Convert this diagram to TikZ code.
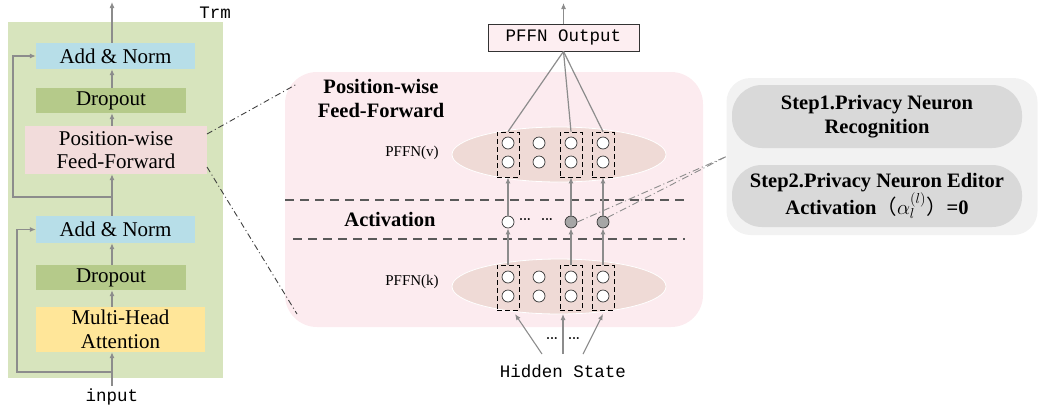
\documentclass[tikz,border=0pt]{standalone}
\usepackage{fontspec}
\setmainfont{Liberation Serif}
\setmonofont{Liberation Mono}
\newfontfamily\cjk{Noto Sans CJK SC}
\usetikzlibrary{arrows.meta,shapes.geometric}
\definecolor{trmgreen}{HTML}{D7E4BD}
\definecolor{normblue}{HTML}{B7DEE8}
\definecolor{dropgreen}{HTML}{B5CA8A}
\definecolor{ffpink}{HTML}{F2DCDB}
\definecolor{mhayellow}{HTML}{FFE699}
\definecolor{bgpink}{HTML}{FCEBEF}
\definecolor{ellpink}{HTML}{EFDAD6}
\definecolor{outpink}{HTML}{FDEEF1}
\definecolor{panelgray}{HTML}{F2F2F2}
\definecolor{stepgray}{HTML}{D9D9D9}
\definecolor{arrgray}{HTML}{8C8C8C}
\definecolor{dashgray}{HTML}{595959}
\definecolor{actgray}{HTML}{A6A6A6}
\begin{document}
\begin{tikzpicture}[x=1pt,y=-1pt,
  blk/.style={rectangle,inner sep=0pt,font=\fontsize{21}{23.5}\selectfont,align=center},
  arr/.style={draw=arrgray,line width=1.1pt,-{Latex[length=6pt,width=5pt]}},
  gline/.style={draw=arrgray,line width=1.2pt},
  mono/.style={font=\ttfamily\fontsize{17.5}{20}\selectfont,inner sep=0pt},
  neu/.style={circle,draw=black!80,fill=white,line width=0.7pt,minimum size=12pt,inner sep=0pt},
  aneu/.style={neu,fill=actgray},
  colbox/.style={rectangle,draw=black,dashed,dash pattern=on 5pt off 3pt,line width=0.8pt,minimum width=22pt,minimum height=45pt,inner sep=0pt},
  ell/.style={ellipse,fill=ellpink,draw=white,line width=0.8pt,minimum width=214pt,minimum height=55pt,inner sep=0pt},
  sepline/.style={draw=dashgray,line width=1.6pt,dash pattern=on 9pt off 6pt},
  ddline/.style={draw=black!75,line width=0.9pt,dash pattern=on 6pt off 3pt on 1pt off 3pt},
  ddgray/.style={draw=arrgray,line width=0.9pt,dash pattern=on 7pt off 3pt on 1pt off 3pt},
  lbl/.style={font=\fontsize{15}{17}\selectfont,inner sep=0pt},
  dots/.style={font=\bfseries\fontsize{12}{14}\selectfont,inner sep=0pt},
  bold/.style={font=\bfseries\fontsize{20.5}{24}\selectfont,align=center,inner sep=0pt},
  stepbox/.style={rectangle,rounded corners=30pt,fill=stepgray,minimum width=290pt,inner sep=0pt,font=\bfseries\fontsize{20.5}{24.5}\selectfont,align=center}
]
\useasboundingbox (0,0) rectangle (1038,416);

% ---------- left transformer block ----------
\node[rectangle,fill=trmgreen,minimum width=215pt,minimum height=356pt,inner sep=0pt] (trm) at (115.5,200) {};
\node[mono] (trmlbl) at (215,13) {Trm};
\node[blk,fill=normblue,minimum width=159pt,minimum height=26pt] (an2) at (115.5,56) {Add \& Norm};
\node[blk,fill=dropgreen,minimum width=150pt,minimum height=25pt] (dp2) at (111,100.5) {Dropout};
\node[blk,fill=ffpink,minimum width=182pt,minimum height=48pt] (pff) at (116,150) {Position-wise\\Feed-Forward};
\node[blk,fill=normblue,minimum width=159pt,minimum height=27pt] (an1) at (115.5,229.5) {Add \& Norm};
\node[blk,fill=dropgreen,minimum width=150pt,minimum height=25pt] (dp1) at (111,277.5) {Dropout};
\node[blk,fill=mhayellow,minimum width=169pt,minimum height=45pt] (mha) at (120.5,329.5) {Multi-Head\\Attention};
\node[mono] (inp) at (112,397) {input};

\coordinate (mid) at (112,0);
\coordinate (top) at (112,2);
\coordinate (in1) at (112,386);
\coordinate (rb) at (112,372);
\coordinate (rt) at (112,197);

\draw[arr] (in1) -- (mha.south -| mid);
\draw[arr] (mha.north -| mid) -- (dp1.south -| mid);
\draw[arr] (dp1.north -| mid) -- (an1.south -| mid);
\draw[arr] (an1.north -| mid) -- (pff.south -| mid);
\draw[arr] (pff.north -| mid) -- (dp2.south -| mid);
\draw[arr] (dp2.north -| mid) -- (an2.south -| mid);
\draw[arr] (an2.north -| mid) -- (top);
\draw[arr] (rb) -- (17,372) -- (17,229.5) -- (an1.west);
\draw[arr] (rt) -- (13,197) -- (13,56) -- (an2.west);

% ---------- centre PFFN detail ----------
\node[rectangle,rounded corners=32pt,fill=bgpink,minimum width=418pt,minimum height=255pt,inner sep=0pt] (bg) at (494,199.5) {};
\coordinate (z1) at (207,134);
\coordinate (z2) at (297,84);
\coordinate (z3) at (207,167);
\coordinate (z4) at (297,314);
\draw[ddline] (z1) -- (z2);
\draw[ddline] (z3) -- (z4);

\node[bold] (title) at (381,98) {Position-wise\\Feed-Forward};
\node[rectangle,draw=black!80,fill=outpink,line width=0.8pt,minimum width=151pt,minimum height=27pt,inner sep=0pt,font=\ttfamily\fontsize{17.5}{20}\selectfont] (out) at (563.5,37.5) {PFFN Output};
\coordinate (outtop) at (563.5,3);
\draw[arr] (out.north) -- (outtop);

% PFFN(v)
\node[ell] (ev) at (559,154.5) {};
\node[lbl] (lv) at (412,153) {PFFN(v)};
\foreach \n/\x in {1/508,2/539,3/571,4/603}{
  \node[neu] (v\n a) at (\x,143) {};
  \node[neu] (v\n b) at (\x,162) {};
}
\node[colbox] (vb1) at (508,154.5) {};
\node[colbox] (vb3) at (571,154.5) {};
\node[colbox] (vb4) at (603,154.5) {};
\draw[gline] (out.south) -- (vb1.north);
\draw[gline] (out.south) -- (vb3.north);
\draw[gline] (out.south) -- (vb4.north);

% separators
\coordinate (s1a) at (285,200);
\coordinate (s1b) at (685,200);
\coordinate (s2a) at (293,239);
\coordinate (s2b) at (685,239);
\draw[sepline] (s1a) -- (s1b);
\draw[sepline] (s2a) -- (s2b);

% Activation
\node[bold] (act) at (390,219) {Activation};
\node[neu] (a1) at (508,222) {};
\node[aneu] (a3) at (571,222) {};
\node[aneu] (a4) at (603,222) {};
\node[dots] (ad1) at (525,221) {\textperiodcentered\textperiodcentered\textperiodcentered};
\node[dots] (ad2) at (547,221) {\textperiodcentered\textperiodcentered\textperiodcentered};
\draw[arr] (a1.north) -- (vb1.south);
\draw[arr] (a3.north) -- (vb3.south);
\draw[arr] (a4.north) -- (vb4.south);

% PFFN(k)
\node[ell] (ek) at (559,286.5) {};
\node[lbl] (lk) at (412,282) {PFFN(k)};
\foreach \n/\x in {1/508,2/539,3/571,4/603}{
  \node[neu] (k\n a) at (\x,277) {};
  \node[neu] (k\n b) at (\x,296) {};
}
\node[colbox] (kb1) at (508,287.5) {};
\node[colbox] (kb3) at (571,287.5) {};
\node[colbox] (kb4) at (603,287.5) {};
\draw[arr] (kb1.north) -- (a1.south);
\draw[arr] (kb3.north) -- (a3.south);
\draw[arr] (kb4.north) -- (a4.south);

% hidden state
\node[mono] (hs) at (563,371) {Hidden State};
\coordinate (h1) at (542,354);
\coordinate (h2) at (563,354);
\coordinate (h3) at (583,354);
\coordinate (t1) at (515,314);
\coordinate (t2) at (563,314);
\coordinate (t3) at (603,314);
\draw[arr] (h1) -- (t1);
\draw[arr] (h2) -- (t2);
\draw[arr] (h3) -- (t3);
\node[dots] (hd1) at (552,340) {\textperiodcentered\textperiodcentered\textperiodcentered};
\node[dots] (hd2) at (574,340) {\textperiodcentered\textperiodcentered\textperiodcentered};

% ---------- right step panel ----------
\node[rectangle,rounded corners=24pt,fill=panelgray,minimum width=311pt,minimum height=157pt,inner sep=0pt] (panel) at (882,156.5) {};
\node[stepbox,minimum height=63pt] (st1) at (877,116.5) {Step1.Privacy Neuron\\Recognition};
\node[stepbox,minimum height=62pt] (st2) at (877,196) {Step2.Privacy Neuron Editor\\Activation{\mdseries\cjk（}$\alpha_l^{(l)}${\mdseries\cjk）}=0};
\draw[ddgray] (a3.east) -- (panel.west);
\draw[ddgray] (a4.north east) -- (panel.west);
\end{tikzpicture}
\end{document}
